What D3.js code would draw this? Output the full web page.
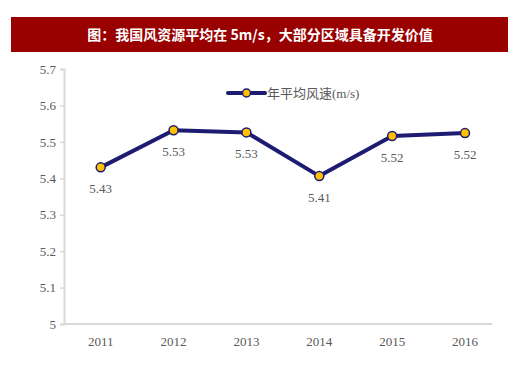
<!DOCTYPE html>
<html>
<head>
<meta charset="utf-8">
<script src="https://cdn.jsdelivr.net/npm/d3@7"></script>
<style>
  body { margin: 0; background: #fff; }
  svg { display: block; }
</style>
</head>
<body>
<div id="chart"></div>
<script>
// data
var years = ['2011', '2012', '2013', '2014', '2015', '2016'];
var windSpeed = [5.43, 5.532, 5.526, 5.406, 5.516, 5.524];
var yTicks = [5, 5.1, 5.2, 5.3, 5.4, 5.5, 5.6, 5.7];
var seriesName = '年平均风速(m/s)';
var titleText = '图：我国风资源平均在 5m/s，大部分区域具备开发价值';

var width = 520, height = 372;
var lineColor = '#1d1b72', dotColor = '#ffc000', axisColor = '#d9d9d9', textColor = '#595959';

var svg = d3.select('#chart').append('svg')
  .attr('width', width)
  .attr('height', height);

// title bar
svg.append('rect')
  .attr('x', 11).attr('y', 17)
  .attr('width', 497).attr('height', 35)
  .attr('fill', '#990000');

svg.append('text')
  .attr('x', 260).attr('y', 35).attr('dy', '0.36em')
  .attr('text-anchor', 'middle')
  .attr('fill', '#fff')
  .attr('font-family', '"Noto Sans CJK SC", sans-serif')
  .attr('font-weight', 'bold')
  .attr('font-size', 14)
  .text(titleText);

// scales
var x = d3.scalePoint().domain(years).range([100.7, 465]);
var y = d3.scaleLinear().domain([5, 5.7]).range([324, 69]);

// y axis
var yAxis = svg.append('g')
  .attr('transform', 'translate(64,0)')
  .call(d3.axisLeft(y).tickValues(yTicks).tickSize(4).tickPadding(4).tickFormat(d3.format('')));
yAxis.select('.domain').attr('stroke', axisColor).attr('stroke-width', 2);
yAxis.selectAll('.tick line').attr('stroke', axisColor).attr('stroke-width', 1.5);
yAxis.selectAll('.tick text')
  .attr('fill', textColor)
  .attr('font-family', '"Liberation Serif", serif')
  .attr('font-size', 13);

// x axis line
svg.append('line')
  .attr('x1', 63).attr('x2', 492)
  .attr('y1', y(5)).attr('y2', y(5))
  .attr('stroke', axisColor).attr('stroke-width', 2);

svg.append('g').selectAll('text')
  .data(years)
  .join('text')
  .attr('x', d => x(d))
  .attr('y', 341).attr('dy', '0.36em')
  .attr('text-anchor', 'middle')
  .attr('fill', textColor)
  .attr('font-family', '"Liberation Serif", serif')
  .attr('font-size', 13)
  .text(d => d);

// line
var line = d3.line()
  .x((d, i) => x(years[i]))
  .y(d => y(d));

svg.append('path')
  .datum(windSpeed)
  .attr('d', line)
  .attr('fill', 'none')
  .attr('stroke', lineColor)
  .attr('stroke-width', 4)
  .attr('stroke-linejoin', 'round');

svg.append('g').selectAll('circle')
  .data(windSpeed)
  .join('circle')
  .attr('cx', (d, i) => x(years[i]))
  .attr('cy', d => y(d))
  .attr('r', 4.5)
  .attr('fill', dotColor)
  .attr('stroke', lineColor)
  .attr('stroke-width', 1.5);

// value labels below points
svg.append('g').selectAll('text')
  .data(windSpeed)
  .join('text')
  .attr('x', (d, i) => x(years[i]))
  .attr('y', d => y(d) + 21).attr('dy', '0.36em')
  .attr('text-anchor', 'middle')
  .attr('fill', textColor)
  .attr('font-family', '"Liberation Serif", serif')
  .attr('font-size', 13)
  .text(d => d3.format('.2f')(d));

// legend
var legend = svg.append('g').attr('transform', 'translate(228,93)');
legend.append('line')
  .attr('x1', 0).attr('x2', 37)
  .attr('stroke', lineColor).attr('stroke-width', 4).attr('stroke-linecap', 'round');
legend.append('circle')
  .attr('cx', 18.5).attr('r', 4)
  .attr('fill', dotColor).attr('stroke', lineColor).attr('stroke-width', 1.5);
legend.append('text')
  .attr('x', 39).attr('dy', '0.36em')
  .attr('fill', textColor)
  .attr('font-family', '"Liberation Serif", "Noto Sans CJK SC", serif')
  .attr('font-size', 13)
  .text(seriesName);
</script>
</body>
</html>
